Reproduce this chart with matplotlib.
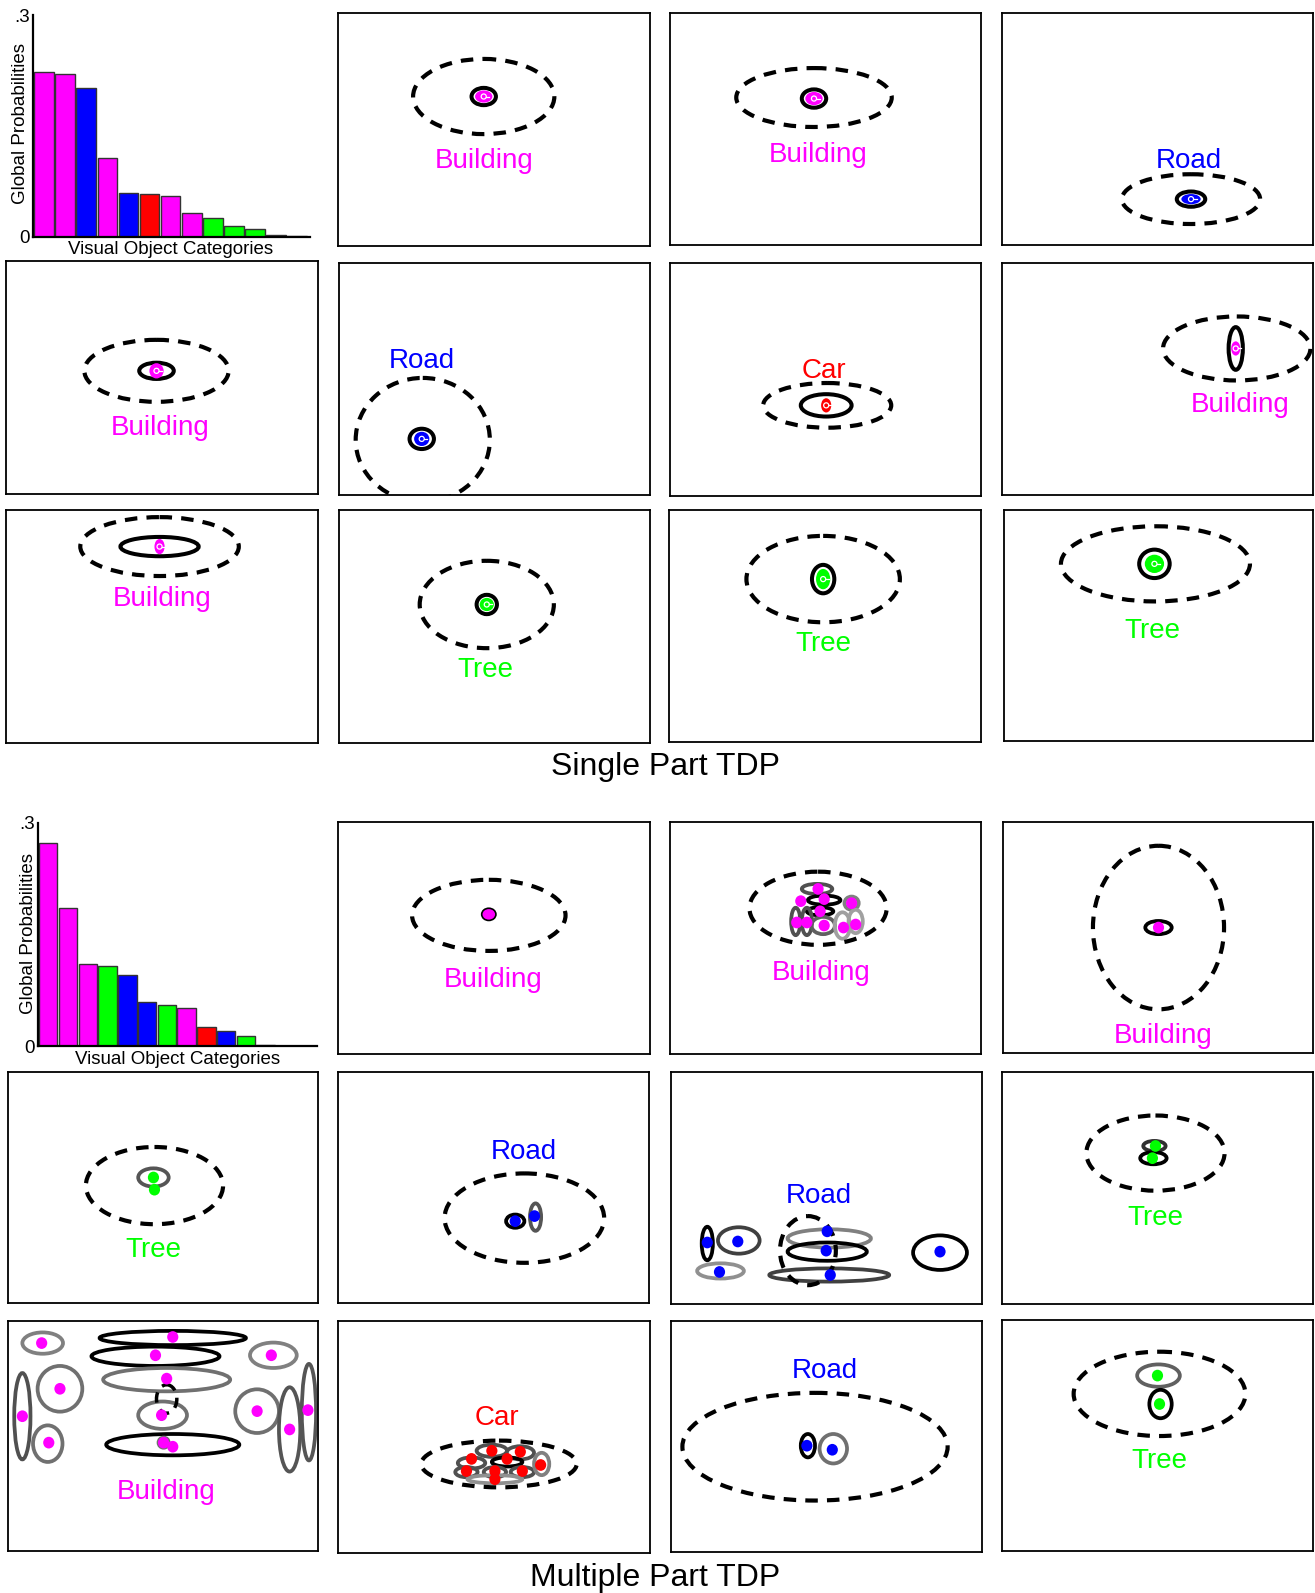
import matplotlib
matplotlib.use('Agg')
import matplotlib.pyplot as plt
from matplotlib.patches import Ellipse

plt.rcParams['font.family'] = ['Liberation Sans', 'DejaVu Sans']

# reference frame units (layout grid)
W, H = 1294.0, 1568.0

CAT_COLORS = {'Building': '#ff00ff', 'Road': '#0000ff', 'Car': '#ff0000',
              'Tree': '#00ff00', 'Other': '#4a4a4a', 'Other2': '#000000',
              'Other3': '#a0a0a0'}

# ---------------- bar chart data ----------------
single_cats = ['Building', 'Building', 'Road', 'Building', 'Road', 'Car', 'Building',
               'Building', 'Tree', 'Tree', 'Tree', 'Other', 'Other2']
single_probs = [0.223, 0.220, 0.202, 0.106, 0.059, 0.058, 0.055, 0.032, 0.025,
                0.015, 0.011, 0.002, 0.0015]
multi_cats = ['Building', 'Building', 'Building', 'Tree', 'Road', 'Road', 'Tree',
              'Building', 'Car', 'Road', 'Tree', 'Other3', 'Other2', 'Other2']
multi_probs = [0.272, 0.185, 0.111, 0.108, 0.096, 0.060, 0.055, 0.052, 0.026,
               0.021, 0.014, 0.002, 0.0012, 0.0012]
ytick_vals = [0, 0.3]
ytick_labels = ['0', '.3']

# ---------------- single part TDP panels ----------------
single_boxes = [(333, 13, 640, 242), (659, 13, 965, 241), (986, 13, 1292, 241),
                (6, 257, 313, 486), (334, 259, 640, 487), (659, 259, 965, 488),
                (986, 259, 1292, 487), (6, 502, 313, 731), (334, 502, 640, 731),
                (658, 502, 965, 730), (988, 502, 1292, 729)]
single_labels = ['Building', 'Building', 'Road', 'Building', 'Road', 'Car',
                 'Building', 'Building', 'Tree', 'Tree', 'Tree']
single_label_xy = [(476, 155), (805, 150), (1170, 155), (158, 418), (415, 352),
                   (811, 362), (1220, 396), (160, 587), (478, 656), (810, 631),
                   (1134, 618)]
single_dashed = [(476, 95, 139, 74), (801, 96, 153, 58), (1172, 196, 136, 49),
                 (154, 365, 142, 61), (416, 433, 132, 122), (814, 399, 126, 44),
                 (1217, 343, 145, 63), (157, 538, 156, 58), (479, 595, 132, 86),
                 (810, 570, 151, 85), (1137, 555, 186, 74)]
single_parts = [(476, 95, 24, 17), (801, 97, 24, 18), (1172, 196, 28, 15),
                (154, 365, 34, 16), (415, 432, 24, 20), (813, 399, 50, 22),
                (1216, 343, 14, 42), (157, 538, 77, 19), (479, 595, 20, 19),
                (810, 570, 22, 28), (1136, 555, 30, 28)]
single_dots = [(17, 12), (17, 13), (19, 10), (14, 15), (15, 14), (10, 14),
               (9, 14), (10, 15), (14, 13), (14, 20), (19, 18)]

# ---------------- multiple part TDP panels ----------------
multi_boxes = [(333, 809, 640, 1037), (659, 809, 965, 1037), (987, 809, 1292, 1036),
               (8, 1055, 313, 1283), (333, 1055, 639, 1283), (660, 1055, 966, 1284),
               (986, 1055, 1292, 1284), (8, 1300, 313, 1527), (333, 1300, 640, 1529),
               (660, 1300, 966, 1528), (986, 1299, 1292, 1527)]
multi_labels = ['Building', 'Building', 'Building', 'Tree', 'Road', 'Road', 'Tree',
                'Building', 'Car', 'Road', 'Tree']
multi_label_xy = [(485, 962), (808, 955), (1145, 1017), (151, 1227), (515, 1131),
                  (806, 1174), (1137, 1196), (163, 1466), (489, 1393), (812, 1346),
                  (1141, 1435)]
# (panel, cx, cy, w, h)
multi_dashed = [(0, 481, 901, 151, 70), (1, 805, 894, 135, 72), (2, 1140, 913, 129, 161),
                (3, 152, 1167, 135, 76), (4, 516, 1199, 157, 88), (5, 795, 1231, 55, 68),
                (6, 1137, 1135, 136, 74), (7, 164, 1377, 20, 28), (8, 491, 1441, 153, 46),
                (9, 802, 1424, 261, 106), (10, 1141, 1372, 169, 83)]
# (panel, cx, cy, w, h, grey level)
multi_parts = [
    (1, 804, 875, 30, 10, '#505050'), (1, 811, 886, 32, 9, '#000000'),
    (1, 838, 889, 14, 13, '#808080'), (1, 807, 897, 26, 8, '#000000'),
    (1, 783, 907, 9, 27, '#505050'), (1, 794, 907, 10, 27, '#505050'),
    (1, 810, 911, 23, 17, '#606060'), (1, 829, 911, 15, 26, '#a0a0a0'),
    (1, 842, 907, 14, 23, '#a0a0a0'),
    (2, 1140, 913, 26, 13, '#000000'),
    (3, 151, 1159, 30, 18, '#555555'),
    (4, 507, 1202, 18, 13, '#000000'), (4, 527, 1198, 11, 27, '#555555'),
    (5, 696, 1224, 11, 33, '#000000'), (5, 727, 1221, 41, 26, '#404040'),
    (5, 709, 1251, 46, 15, '#909090'), (5, 816, 1219, 82, 18, '#808080'),
    (5, 814, 1232, 78, 18, '#000000'), (5, 816, 1255, 118, 13, '#404040'),
    (5, 925, 1233, 53, 34, '#000000'),
    (6, 1136, 1128, 22, 10, '#303030'), (6, 1135, 1140, 26, 12, '#000000'),
    (7, 42, 1322, 40, 21, '#808080'), (7, 59, 1367, 44, 45, '#707070'),
    (7, 22, 1394, 16, 85, '#505050'), (7, 47, 1421, 29, 36, '#707070'),
    (7, 170, 1317, 144, 14, '#000000'), (7, 153, 1335, 126, 19, '#000000'),
    (7, 164, 1358, 125, 23, '#707070'), (7, 160, 1393, 48, 27, '#707070'),
    (7, 170, 1422, 131, 21, '#000000'), (7, 161, 1420, 10, 10, '#707070'),
    (7, 269, 1334, 46, 25, '#808080'), (7, 253, 1389, 43, 43, '#707070'),
    (7, 285, 1407, 21, 83, '#555555'), (7, 304, 1390, 14, 95, '#555555'),
    (8, 484, 1428, 30, 12, '#505050'), (8, 512, 1430, 27, 13, '#505050'),
    (8, 464, 1440, 27, 11, '#505050'), (8, 499, 1439, 30, 9, '#000000'),
    (8, 459, 1449, 22, 10, '#505050'), (8, 487, 1449, 22, 10, '#505050'),
    (8, 514, 1449, 23, 10, '#505050'), (8, 487, 1456, 54, 8, '#909090'),
    (8, 533, 1441, 15, 22, '#808080'),
    (9, 795, 1423, 14, 23, '#000000'), (9, 820, 1426, 27, 29, '#707070'),
    (10, 1140, 1354, 42, 22, '#606060'), (10, 1142, 1382, 22, 28, '#000000'),
]
# (panel, x, y)
multi_dots = [
    (0, 481, 900),
    (1, 805, 875), (1, 811, 885), (1, 788, 887), (1, 838, 889), (1, 807, 897),
    (1, 784, 908), (1, 794, 908), (1, 811, 911), (1, 830, 913), (1, 842, 910),
    (2, 1140, 913),
    (3, 151, 1159), (3, 152, 1171),
    (4, 507, 1202), (4, 526, 1197),
    (5, 696, 1223), (5, 726, 1222), (5, 708, 1252), (5, 814, 1212), (5, 813, 1231),
    (5, 817, 1255), (5, 925, 1232),
    (6, 1137, 1128), (6, 1134, 1140),
    (7, 41, 1322), (7, 59, 1367), (7, 22, 1394), (7, 48, 1420), (7, 170, 1316),
    (7, 153, 1334), (7, 164, 1357), (7, 159, 1393), (7, 161, 1420), (7, 170, 1424),
    (7, 267, 1334), (7, 253, 1389), (7, 285, 1407), (7, 303, 1388),
    (8, 484, 1428), (8, 512, 1429), (8, 464, 1436), (8, 499, 1436), (8, 459, 1448),
    (8, 487, 1448), (8, 514, 1448), (8, 487, 1456), (8, 532, 1442),
    (9, 794, 1423), (9, 819, 1427),
    (10, 1139, 1354), (10, 1141, 1382),
]

# ---------------- drawing ----------------
DASH = (0, (3.0, 2.2))
LABEL_SHIFT = 3
fig = plt.figure(figsize=(13.15, 15.93), dpi=100)


def panel_axes(box):
    x0, y0, x1, y1 = box
    ax = fig.add_axes([x0 / W, 1 - y1 / H, (x1 - x0) / W, (y1 - y0) / H])
    ax.set_xlim(x0, x1)
    ax.set_ylim(y1, y0)
    ax.set_xticks([])
    ax.set_yticks([])
    for s in ax.spines.values():
        s.set_linewidth(1.3)
        s.set_color('black')
    return ax


def ell(ax, cx, cy, w, h, **kw):
    e = Ellipse((cx, cy), w, h, **kw)
    ax.add_patch(e)
    return e


def bar_chart(rect, probs, cats, ylab_xy, xlab_xy):
    x0, y0, x1, y1 = rect
    ax = fig.add_axes([x0 / W, 1 - y1 / H, (x1 - x0) / W, (y1 - y0) / H])
    n = len(probs)
    ax.bar(range(n), probs, width=0.93, color=[CAT_COLORS[c] for c in cats],
           edgecolor='#333333', linewidth=1.0)
    ax.set_xlim(-0.52, n - 0.4)
    ax.set_ylim(0, 0.3)
    ax.set_xticks([])
    ax.set_yticks(ytick_vals)
    ax.set_yticklabels(ytick_labels)
    ax.tick_params(axis='y', length=0, labelsize=13.5, pad=2)
    for s in ['top', 'right']:
        ax.spines[s].set_visible(False)
    for s in ['left', 'bottom']:
        ax.spines[s].set_linewidth(1.6)
    ax.patch.set_alpha(0)
    fig.text(ylab_xy[0] / W, 1 - ylab_xy[1] / H, 'Global Probabilities', rotation=90,
             ha='center', va='center', fontsize=13.5)
    fig.text(xlab_xy[0] / W, 1 - (xlab_xy[1] + 2) / H, 'Visual Object Categories',
             ha='center', va='center', fontsize=13.5)


bar_chart((32.5, 15, 305, 233), single_probs, single_cats, (20, 122), (168, 244))
bar_chart((37.4, 809.6, 312, 1030), multi_probs, multi_cats, (28, 919), (175, 1041))

# single part panels
for i, box in enumerate(single_boxes):
    ax = panel_axes(box)
    col = CAT_COLORS[single_labels[i]]
    dx, dy, dw, dh = single_dashed[i]
    ell(ax, dx, dy, dw, dh, fill=False, edgecolor='black', linewidth=3.0, linestyle=DASH)
    px, py, pw, ph = single_parts[i]
    ell(ax, px, py, pw, ph, fill=False, edgecolor='black', linewidth=2.9)
    ow, oh = single_dots[i]
    ell(ax, px, py, ow, oh, facecolor=col, edgecolor='none')
    ell(ax, px, py, 5, 5, fill=False, edgecolor='white', linewidth=0.9)
    ax.plot([px + 2.5, px + 5.5], [py, py], color='white', linewidth=0.9)
    lx, ly = single_label_xy[i]
    ax.text(lx, ly + LABEL_SHIFT, single_labels[i], color=col, fontsize=20,
            ha='center', va='center')

# multiple part panels
maxes = [panel_axes(b) for b in multi_boxes]
for (p, cx, cy, w, h, c) in multi_parts:
    ell(maxes[p], cx, cy, w, h, fill=False, edgecolor=c, linewidth=2.7)
for (p, cx, cy, w, h) in multi_dashed:
    lw = 3.0 if w > 40 else 2.5
    ell(maxes[p], cx, cy, w, h, fill=False, edgecolor='black', linewidth=lw, linestyle=DASH)
for (p, x, y) in multi_dots:
    col = CAT_COLORS[multi_labels[p]]
    ell(maxes[p], x, y, 11, 11.5, facecolor=col, edgecolor='none')
# thin outline around the single root dot
ell(maxes[0], 481, 900, 14, 12, facecolor=CAT_COLORS['Building'], edgecolor='black', linewidth=1.2)
for i, ax in enumerate(maxes):
    lx, ly = multi_label_xy[i]
    ax.text(lx, ly + LABEL_SHIFT, multi_labels[i], color=CAT_COLORS[multi_labels[i]],
            fontsize=20, ha='center', va='center')

fig.text(655 / W, 1 - 755 / H, 'Single Part TDP', ha='center', va='center', fontsize=23)
fig.text(645 / W, 1 - 1553 / H, 'Multiple Part TDP', ha='center', va='center', fontsize=23)

fig.savefig('out.png', dpi=100, facecolor='white')
